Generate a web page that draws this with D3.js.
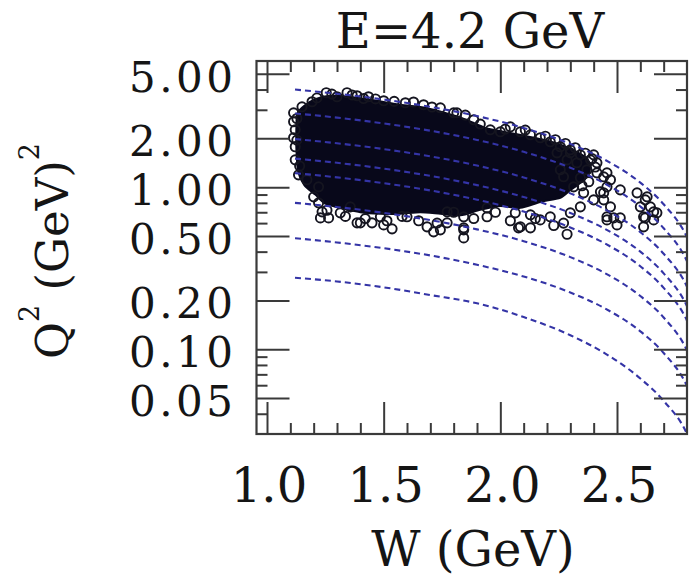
<!DOCTYPE html>
<html><head><meta charset="utf-8">
<script src="https://cdn.jsdelivr.net/npm/d3@7"></script>
<style>body{margin:0;background:#fff}svg{display:block}</style>
</head><body>
<svg id="c" width="689" height="577"></svg>
<script>
// ---------- data ----------
const titleText = "E=4.2 GeV";
const xLabelText = "W (GeV)";
const xTickValues = [1.0, 1.5, 2.0, 2.5];
const xTickLabels = ["1.0", "1.5", "2.0", "2.5"];
const xMinorTicks = [1.1,1.2,1.3,1.4,1.6,1.7,1.8,1.9,2.1,2.2,2.3,2.4,2.6,2.7];
const yTickValues = [0.05, 0.1, 0.2, 0.5, 1, 2, 5];
const yTickLabels = ["0.05","0.10","0.20","0.50","1.00","2.00","5.00"];
const yMinorTicks = [0.04,0.06,0.07,0.08,0.09,0.3,0.4,0.6,0.7,0.8,0.9,3,4];

// dashed kinematic curves (Q2 vs W)
const curveW  = [1.12, 1.3, 1.5, 1.7, 1.9, 2.1, 2.3, 2.45, 2.6, 2.7, 2.8, 2.9];
const curve1 = [0.276,0.262,0.241,0.216,0.192,0.158,0.122,0.094,0.066,0.048,0.030,0.011];
const curve2 = [0.484,0.456,0.420,0.379,0.332,0.281,0.224,0.178,0.129,0.0948,0.0593,0.0226];
const curve3 = [0.80,0.754,0.694,0.626,0.549,0.464,0.370,0.294,0.213,0.157,0.0981,0.0373];
const curve4 = [1.22,1.149,1.058,0.954,0.837,0.707,0.564,0.448,0.325,0.239,0.150,0.0569];
const curve5 = [1.50,1.413,1.301,1.173,1.029,0.869,0.693,0.551,0.400,0.294,0.184,0.0699];
const curve6 = [1.98,1.865,1.717,1.549,1.359,1.148,0.915,0.727,0.528,0.388,0.243,0.0923];
const curve7 = [2.85,2.685,2.472,2.229,1.956,1.652,1.318,1.047,0.760,0.558,0.349,0.133];
const curve8 = [4.0,3.768,3.470,3.128,2.745,2.318,1.849,1.470,1.066,0.784,0.490,0.186];

// region where the data markers overlap into a solid mass
const coreW  = [1.130,1.160,1.210,1.271,1.357,1.464,1.571,1.679,1.764,1.850,1.936,2.043,2.150,2.236,2.310,2.365,2.385,2.375,2.335,2.300,2.257,2.171,2.086,2.000,1.914,1.829,1.743,1.657,1.571,1.486,1.400,1.314,1.250,1.207,1.160,1.134,1.126,1.126];
const coreQ2 = [2.85,3.18,3.50,3.66,3.60,3.42,3.22,3.08,2.87,2.62,2.32,2.16,2.01,1.87,1.70,1.53,1.36,1.17,1.04,0.96,0.86,0.81,0.745,0.765,0.725,0.67,0.685,0.70,0.685,0.685,0.70,0.745,0.79,0.90,1.03,1.24,1.70,2.40];

// individual data markers (edges of the cloud)
const pointW = [1.114,1.114,1.114,1.121,1.150,1.193,1.254,1.300,1.343,1.386,1.435,1.500,1.593,1.671,1.743,1.800,
1.121,1.121,1.135,1.171,1.221,1.200,1.236,1.264,1.221,1.229,1.314,1.400,1.386,1.450,1.500,1.536,1.486,1.357,1.600,
1.686,1.714,1.743,1.772,1.772,1.843,1.843,1.843,1.843,1.943,1.943,2.064,2.078,2.129,2.129,2.171,2.214,2.286,2.300,
2.343,2.357,2.314,2.271,2.257,2.286,2.300,2.328,2.371,2.414,2.443,2.457,2.429,2.400,2.443,2.472,2.457,2.486,2.514,
2.500,2.586,2.629,2.600,2.643,2.671,2.657,2.614,2.614,1.814,1.886,1.957,2.000,2.043,2.086,2.129,2.171,2.214,2.257,
2.300,2.343,2.386,2.243,2.400,2.457,2.414,2.343,2.472,2.443,2.514,2.457,2.621,2.657,2.621,2.086,
1.214,1.278,1.365,1.414,1.465,1.545,1.628,1.707,1.850,1.914,2.021,2.107,2.193,2.236,2.279,2.321,2.364,2.393,2.407,2.379,2.350,
1.128,1.128,1.140,1.257,1.336,1.421,1.514,1.579,1.650,1.729,1.800,1.886,1.979,2.043,2.150,2.229,2.271];
const pointQ2 = [2.874,2.530,2.016,2.258,3.130,3.362,3.821,3.609,3.821,3.661,3.609,3.410,3.314,3.221,3.086,2.874,
1.774,1.474,1.191,1.110,1.004,0.871,0.704,0.646,0.800,0.646,0.694,0.602,0.602,0.602,0.585,0.553,0.656,0.756,0.656,
0.569,0.530,0.545,0.602,0.704,0.656,0.561,0.486,0.545,0.656,0.745,0.694,0.561,0.561,0.675,0.628,0.656,0.512,0.694,
0.756,0.922,1.004,1.158,1.279,1.474,1.628,1.413,1.279,1.225,1.158,1.004,0.935,0.835,0.835,0.756,0.656,0.646,0.646,
0.585,0.922,0.871,0.756,0.756,0.694,0.628,0.656,0.569,2.874,2.602,2.258,2.194,2.356,2.194,2.103,2.016,1.904,1.774,
1.699,1.582,1.474,1.628,1.582,1.225,1.413,1.141,1.110,0.922,0.962,0.628,0.835,0.704,0.646,0.569,
3.55,3.75,3.70,3.52,3.50,3.38,3.35,3.12,2.78,2.45,2.28,2.25,2.06,1.96,1.86,1.75,1.62,1.50,1.33,1.08,1.02,
2.65,1.95,1.35,0.72,0.66,0.64,0.62,0.66,0.62,0.60,0.70,0.64,0.70,0.62,0.64,0.58,0.60];

// ---------- chart ----------
const svg = d3.select("#c");
const L = 256.5, R = 687, T = 61, B = 434;
const x = d3.scaleLinear().domain([0.955, 2.80]).range([L, R]);
const y = d3.scaleLog().domain([0.03, 6.0]).range([B, T]);
const FONT = "'DejaVu Serif', serif";
const curveColor = "#3434a6";
const inkColor = "#151515";

svg.append("defs").append("clipPath").attr("id","clip")
  .append("rect").attr("x",L).attr("y",T).attr("width",R-L).attr("height",B-T);
const plot = svg.append("g").attr("clip-path","url(#clip)");

// dense core of overlapping markers
const core = coreW.map((w,i)=>[w, coreQ2[i]]);
plot.append("path")
  .attr("d", d3.line().x(d=>x(d[0])).y(d=>y(d[1])).curve(d3.curveCardinalClosed.tension(0.3))(core))
  .attr("fill","#08081a").attr("stroke","#08081a").attr("stroke-width",2).attr("stroke-linejoin","round");

// markers
plot.append("g").selectAll("circle").data(pointW.map((w,i)=>[w, pointQ2[i]])).join("circle")
  .attr("cx", d=>x(d[0])).attr("cy", d=>y(d[1])).attr("r", 4.6)
  .attr("fill","none").attr("stroke","#151520").attr("stroke-width",1.9);

// dashed curves
const curves = [curve1,curve2,curve3,curve4,curve5,curve6,curve7,curve8];
const line = d3.line().x(d=>x(d[0])).y(d=>y(d[1])).curve(d3.curveMonotoneX);
plot.append("g").selectAll("path").data(curves).join("path")
  .attr("d", c => line(curveW.map((w,i)=>[w, c[i]])))
  .attr("fill","none").attr("stroke",curveColor).attr("stroke-width",2.1)
  .attr("stroke-dasharray","6,4");

// axes (ticks inside on all four sides)
const tickColor = "#3a3a3a";
function styleAxis(g){
  g.select(".domain").remove();
  g.selectAll(".tick line").attr("stroke",tickColor).attr("stroke-width",2);
  g.selectAll(".tick text").remove();
}
svg.append("g").attr("transform",`translate(0,${B})`).call(d3.axisBottom(x).tickValues(xTickValues).tickSize(-32)).call(styleAxis);
svg.append("g").attr("transform",`translate(0,${B})`).call(d3.axisBottom(x).tickValues(xMinorTicks).tickSize(-11)).call(styleAxis);
svg.append("g").attr("transform",`translate(0,${T})`).call(d3.axisTop(x).tickValues(xTickValues).tickSize(-32)).call(styleAxis);
svg.append("g").attr("transform",`translate(0,${T})`).call(d3.axisTop(x).tickValues(xMinorTicks).tickSize(-11)).call(styleAxis);
svg.append("g").attr("transform",`translate(${L},0)`).call(d3.axisLeft(y).tickValues(yTickValues).tickSize(-33)).call(styleAxis);
svg.append("g").attr("transform",`translate(${L},0)`).call(d3.axisLeft(y).tickValues(yMinorTicks).tickSize(-11)).call(styleAxis);
svg.append("g").attr("transform",`translate(${R},0)`).call(d3.axisRight(y).tickValues(yTickValues).tickSize(-33)).call(styleAxis);
svg.append("g").attr("transform",`translate(${R},0)`).call(d3.axisRight(y).tickValues(yMinorTicks).tickSize(-11)).call(styleAxis);

// frame
svg.append("rect").attr("x",L).attr("y",T).attr("width",R-L).attr("height",B-T)
  .attr("fill","none").attr("stroke","#3a3a3a").attr("stroke-width",2.2);

// tick labels
svg.append("g").selectAll("text").data(yTickValues).join("text")
  .attr("x", 236.5).attr("y", d=>y(d)).attr("dy", 18)
  .attr("text-anchor","end").attr("font-family",FONT).attr("font-size",42)
  .attr("letter-spacing", 3.5).attr("fill",inkColor)
  .text((d,i)=>yTickLabels[i]);
svg.append("g").selectAll("text").data(xTickValues).join("text")
  .attr("x", d=>x(d)+2).attr("y", 502)
  .attr("text-anchor","middle").attr("font-family",FONT).attr("font-size",48).attr("fill",inkColor)
  .text((d,i)=>xTickLabels[i]);

// title and axis titles
svg.append("text").attr("x",470).attr("y",48).attr("text-anchor","middle")
  .attr("font-family",FONT).attr("font-size",48).attr("fill",inkColor).text(titleText);
svg.append("text").attr("x",473).attr("y",566).attr("text-anchor","middle")
  .attr("font-family",FONT).attr("font-size",48).attr("fill",inkColor).text(xLabelText);

const yl = svg.append("text").attr("transform","translate(68,251) rotate(-90)")
  .attr("text-anchor","middle").attr("font-family",FONT).attr("font-size",45).attr("fill",inkColor);
yl.append("tspan").text("Q");
yl.append("tspan").attr("font-size",27).attr("dy",-29).text("2");
yl.append("tspan").attr("dy",29).text("  (GeV)");
yl.append("tspan").attr("font-size",27).attr("dy",-29).text("2");
</script>
</body></html>
